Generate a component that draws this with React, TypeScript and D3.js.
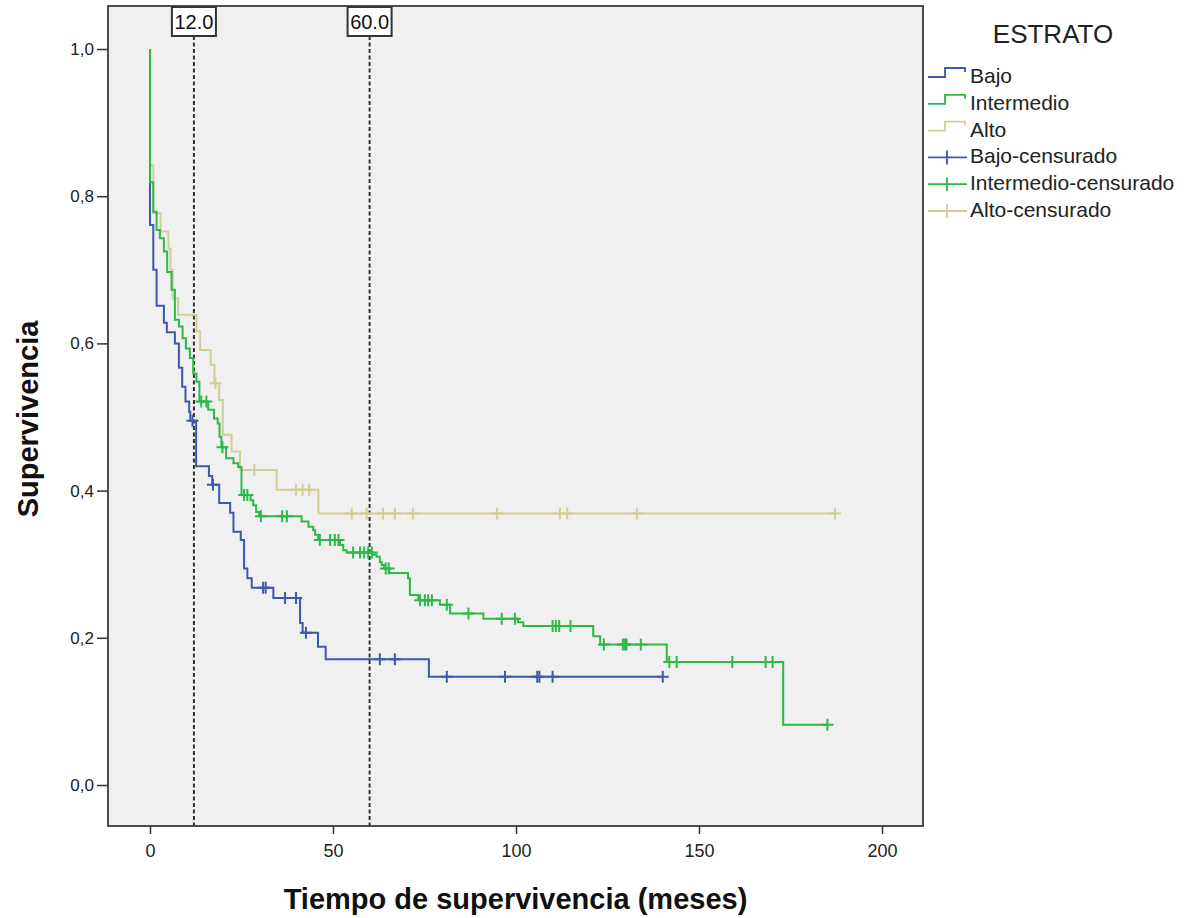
import { useEffect, useRef } from 'react';
import * as d3 from 'd3';

// Kaplan-Meier steps: [tiempo (meses), supervivencia]
const bajoSteps: [number, number][] = [
  [0, 1], [0, 0.761], [0.9, 0.700], [1.8, 0.651], [3.8, 0.628], [4.6, 0.615],
  [6.8, 0.600], [7.9, 0.567], [8.8, 0.541], [9.7, 0.521], [10.7, 0.507],
  [11.0, 0.495], [12.6, 0.433], [16.1, 0.420], [17.0, 0.408], [18.9, 0.383],
  [21.9, 0.370], [22.8, 0.344], [24.8, 0.333], [25.7, 0.294], [26.6, 0.281],
  [27.8, 0.268], [33.7, 0.254], [41.0, 0.220], [41.7, 0.207], [45.9, 0.188],
  [48.0, 0.171], [76.2, 0.147],
];
const bajoCens = [11.6, 17.2, 30.9, 31.6, 36.9, 39.9, 42.6, 62.8, 66.9, 81.1, 97.0, 105.8, 106.4, 110.0, 140.1];
const bajoEnd = 140.1;

const interSteps: [number, number][] = [
  [0, 1], [0, 0.819], [0.9, 0.779], [1.8, 0.754], [2.7, 0.743], [3.8, 0.725],
  [4.7, 0.697], [5.9, 0.673], [6.8, 0.632], [7.9, 0.623], [8.9, 0.607],
  [9.8, 0.593], [10.9, 0.580], [11.8, 0.559], [12.7, 0.548], [13.5, 0.521],
  [15.9, 0.510], [17.5, 0.498], [18.5, 0.491], [19.0, 0.473], [19.5, 0.459],
  [20.8, 0.444], [22.8, 0.437], [24.1, 0.432], [25.0, 0.394], [27.5, 0.387],
  [28.2, 0.380], [29.0, 0.371], [29.8, 0.365], [41.4, 0.358], [43.3, 0.351],
  [44.6, 0.346], [45.1, 0.340], [46.0, 0.333], [51.9, 0.326], [52.8, 0.319],
  [53.7, 0.316], [61.0, 0.313], [61.9, 0.310], [62.8, 0.303], [63.3, 0.299],
  [63.9, 0.294], [65.4, 0.288], [70.5, 0.281], [71.0, 0.258], [73.3, 0.251],
  [79.2, 0.245], [82.0, 0.233], [91.1, 0.226], [100.5, 0.221], [102.0, 0.216],
  [121.1, 0.202], [123.0, 0.191], [141.2, 0.167], [173.0, 0.082],
];
const interCens = [
  14.0, 15.4, 19.8, 25.7, 26.6, 30.3, 36.1, 37.4, 46.4, 49.2, 50.5, 51.5,
  55.5, 57.4, 58.5, 59.6, 60.6, 64.4, 65.2, 73.8, 75.1, 76.0, 77.0, 81.1,
  87.0, 96.1, 99.7, 110.0, 110.9, 111.8, 114.9, 124.0, 129.2, 129.8, 130.2,
  134.1, 141.9, 143.9, 159.1, 168.2, 170.1, 185.1,
];
const interEnd = 185.1;

const altoSteps: [number, number][] = [
  [0, 1], [0, 0.842], [0.9, 0.777], [2.9, 0.752], [5.0, 0.729], [5.6, 0.700],
  [6.2, 0.661], [7.7, 0.639], [12.7, 0.616], [13.7, 0.591], [16.6, 0.571],
  [17.6, 0.546], [18.9, 0.523], [19.9, 0.476], [22.3, 0.453], [24.6, 0.428],
  [34.6, 0.401], [46.0, 0.369],
];
const altoCens = [17.9, 28.5, 39.9, 41.7, 43.5, 55.1, 59.2, 63.7, 66.9, 71.8, 94.8, 112.0, 114.0, 133.0, 187.2];
const altoEnd = 187.2;

const groups = ['Bajo', 'Intermedio', 'Alto'];
const colors = ['#3e58ac', '#2eb848', '#d3ce97'];
const refTimes = [12, 60];
const xTicks = [0, 50, 100, 150, 200];
const yTicks = [0, 0.2, 0.4, 0.6, 0.8, 1.0];

const FONT = '"Liberation Sans", Arial, sans-serif';

export default function App() {
  const svgRef = useRef<SVGSVGElement>(null);

  useEffect(() => {
    if (!svgRef.current) return;
    const svg = d3.select(svgRef.current);
    svg.selectAll('*').remove();

    const F = { left: 108, right: 923, top: 6, bottom: 826 };
    const x = d3.scaleLinear().domain([0, 200]).range([150, 882]);
    const y = d3.scaleLinear().domain([0, 1]).range([785, 49]);

    svg.append('rect')
      .attr('x', F.left).attr('y', F.top)
      .attr('width', F.right - F.left).attr('height', F.bottom - F.top)
      .attr('fill', '#f0f0f0');

    // reference lines at 12 and 60 months
    refTimes.forEach(t => {
      svg.append('line')
        .attr('x1', x(t)).attr('x2', x(t))
        .attr('y1', 36).attr('y2', F.bottom)
        .attr('stroke', '#333').attr('stroke-width', 2)
        .attr('stroke-dasharray', '4,2.5');
    });

    const line = d3.line<[number, number]>()
      .x(d => x(d[0])).y(d => y(d[1]))
      .curve(d3.curveStepAfter);

    const series = [
      { steps: bajoSteps, cens: bajoCens, end: bajoEnd, color: colors[0] },
      { steps: altoSteps, cens: altoCens, end: altoEnd, color: colors[2] },
      { steps: interSteps, cens: interCens, end: interEnd, color: colors[1] },
    ];

    const survAt = (steps: [number, number][], t: number) => {
      let s = 1;
      steps.forEach(d => { if (d[0] <= t) s = d[1]; });
      return s;
    };

    series.forEach(s => {
      const pts: [number, number][] = [...s.steps, [s.end, s.steps[s.steps.length - 1][1]]];
      svg.append('path')
        .attr('d', line(pts))
        .attr('fill', 'none')
        .attr('stroke', s.color)
        .attr('stroke-width', 2);
      svg.append('g').selectAll('path')
        .data(s.cens)
        .join('path')
        .attr('d', t => {
          const cx = x(t), cy = y(survAt(s.steps, t));
          return `M${cx - 6},${cy}H${cx + 6}M${cx},${cy - 6}V${cy + 6}`;
        })
        .attr('stroke', s.color)
        .attr('stroke-width', 2)
        .attr('fill', 'none');
    });

    // reference labels
    refTimes.forEach(t => {
      svg.append('rect')
        .attr('x', x(t) - 22).attr('y', 7).attr('width', 44).attr('height', 29)
        .attr('fill', '#ffffff').attr('stroke', '#333').attr('stroke-width', 2);
      svg.append('text')
        .attr('x', x(t)).attr('y', 29)
        .attr('text-anchor', 'middle')
        .attr('font-family', FONT).attr('font-size', 20).attr('fill', '#111')
        .text(t.toFixed(1));
    });

    // axes
    const gy = svg.append('g')
      .attr('transform', `translate(${F.left},0)`)
      .call(d3.axisLeft(y).tickValues(yTicks).tickSize(11).tickPadding(3)
        .tickFormat(d => d3.format('.1f')(d as number).replace('.', ',')));
    gy.select('.domain').remove();
    gy.selectAll('line').attr('stroke', '#333').attr('stroke-width', 1.5);
    gy.selectAll('text').attr('font-family', FONT).attr('font-size', 17).attr('fill', '#222');

    const gx = svg.append('g')
      .attr('transform', `translate(0,${F.bottom})`)
      .call(d3.axisBottom(x).tickValues(xTicks).tickSize(8).tickPadding(10)
        .tickFormat(d3.format('d')));
    gx.select('.domain').remove();
    gx.selectAll('line').attr('stroke', '#333').attr('stroke-width', 1.5);
    gx.selectAll('text').attr('font-family', FONT).attr('font-size', 18).attr('fill', '#222');

    // frame
    svg.append('rect')
      .attr('x', F.left).attr('y', F.top)
      .attr('width', F.right - F.left).attr('height', F.bottom - F.top)
      .attr('fill', 'none').attr('stroke', '#3a3a3a').attr('stroke-width', 1.8);

    // axis titles
    svg.append('text')
      .attr('x', (F.left + F.right) / 2).attr('y', 909)
      .attr('text-anchor', 'middle')
      .attr('font-family', FONT).attr('font-weight', 'bold').attr('font-size', 29)
      .attr('fill', '#111')
      .text('Tiempo de supervivencia (meses)');
    svg.append('text')
      .attr('transform', `translate(38,${(F.top + F.bottom) / 2 + 3}) rotate(-90)`)
      .attr('text-anchor', 'middle')
      .attr('font-family', FONT).attr('font-weight', 'bold').attr('font-size', 29)
      .attr('fill', '#111')
      .text('Supervivencia');

    // legend
    const lg = svg.append('g');
    lg.append('text')
      .attr('x', 1053).attr('y', 43)
      .attr('text-anchor', 'middle')
      .attr('font-family', FONT).attr('font-size', 26).attr('fill', '#222')
      .text('ESTRATO');
    const labels = [...groups, ...groups.map(g => `${g}-censurado`)];
    labels.forEach((lab, i) => {
      const cy = 77 + i * 26.8;
      const c = colors[i % 3];
      if (i < 3) {
        lg.append('path')
          .attr('d', `M928,${cy}H945V${cy - 9}H965V${cy - 5}`)
          .attr('fill', 'none').attr('stroke', c).attr('stroke-width', 1.8);
      } else {
        lg.append('path')
          .attr('d', `M928,${cy}H967M947,${cy - 7}V${cy + 7}`)
          .attr('fill', 'none').attr('stroke', c).attr('stroke-width', 1.8);
      }
      lg.append('text')
        .attr('x', 970).attr('y', cy + 6)
        .attr('font-family', FONT).attr('font-size', 21).attr('fill', '#222')
        .text(lab);
    });
  }, []);

  return (
    <div style={{ position: 'absolute', left: 0, top: 0 }}>
      <svg ref={svgRef} width={1196} height={918} />
    </div>
  );
}
